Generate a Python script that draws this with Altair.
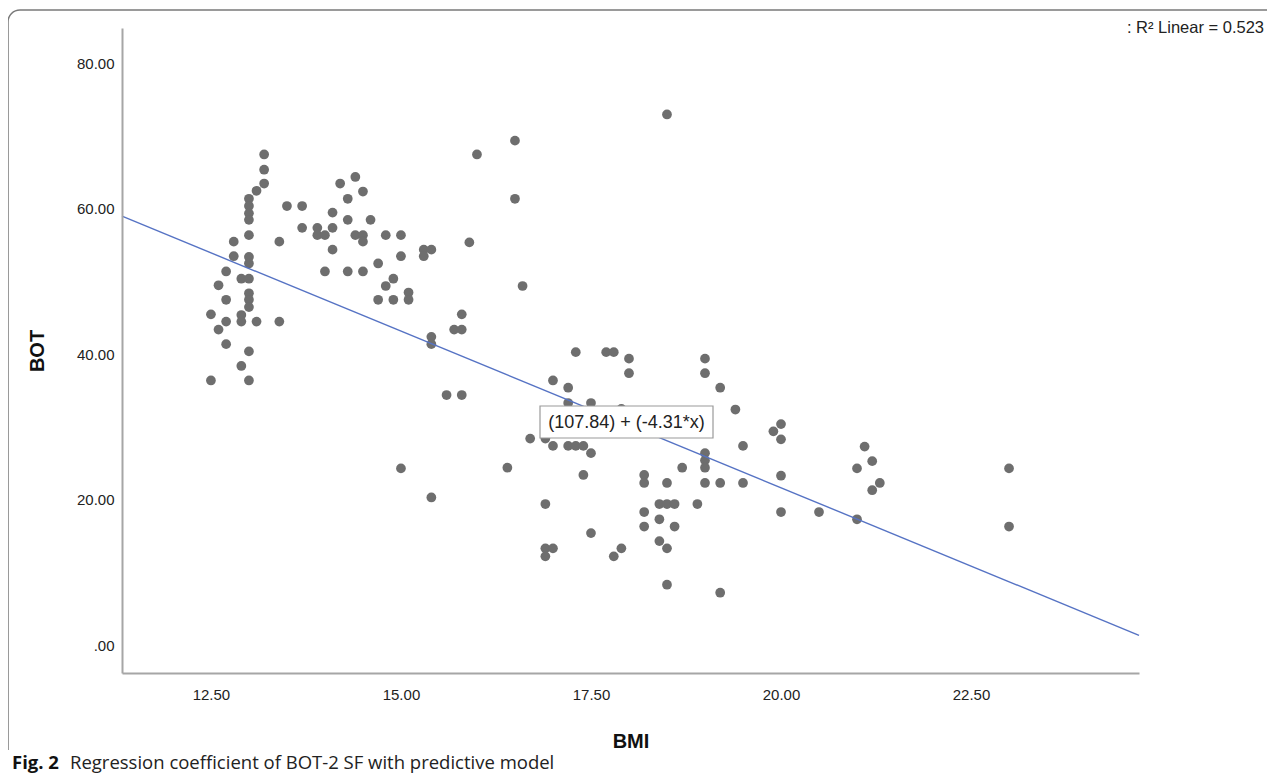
import altair as alt
import pandas as pd

# BMI (x) and BOT (y) values
bmi = [12.5, 12.5, 12.6, 12.6, 12.7, 12.7, 12.7, 12.7, 12.8, 12.8,
       12.9, 12.9, 12.9, 12.9,
       13.0, 13.0, 13.0, 13.0, 13.0, 13.0, 13.0, 13.0, 13.0, 13.0, 13.0, 13.0, 13.0,
       13.1, 13.1, 13.2, 13.2, 13.2, 13.4, 13.4, 13.5, 13.7, 13.7,
       13.9, 13.9, 14.0, 14.1, 14.1, 14.1, 14.0, 14.2, 14.3, 14.3, 14.3,
       14.4, 14.5, 14.6, 14.4, 14.5, 14.5, 14.5, 14.8, 15.0, 15.0,
       15.3, 15.4, 15.3, 14.7, 14.9, 14.8, 14.7, 14.9, 15.1, 15.1,
       15.0, 15.4, 15.4, 15.4, 15.9, 16.0, 16.5, 16.5, 16.6,
       15.8, 15.7, 15.8, 15.6, 15.8,
       17.3, 17.7, 17.8, 18.0, 18.0, 17.0, 17.2, 17.2, 17.5, 17.9,
       16.9, 16.7, 16.9, 17.0, 17.2, 17.3, 17.4, 17.5, 16.4, 17.4,
       16.9, 17.5, 16.9, 17.0, 16.9, 17.8, 17.9,
       18.5, 18.2, 18.2, 18.5, 18.7, 18.9, 18.4, 18.5, 18.6,
       18.2, 18.2, 18.4, 18.6, 18.4, 18.5, 18.5, 19.2,
       19.0, 19.0, 19.2, 19.4, 19.0, 19.0, 19.0, 19.0, 19.2, 19.5, 19.5,
       20.0, 19.9, 20.0, 20.0, 20.0, 20.5, 21.0,
       21.1, 21.2, 21.0, 21.3, 21.2, 23.0, 23.0]
bot = [45.5, 36.4, 49.5, 43.4, 51.4, 47.5, 44.5, 41.4, 55.5, 53.5,
       50.4, 45.4, 44.5, 38.4,
       61.4, 60.4, 59.4, 58.5, 56.4, 53.4, 52.5, 50.4, 48.4, 47.5, 46.5, 40.4, 36.4,
       62.5, 44.5, 67.5, 65.4, 63.5, 55.5, 44.5, 60.4, 60.4, 57.4,
       57.4, 56.4, 56.4, 57.4, 59.5, 54.4, 51.4, 63.5, 61.4, 58.5, 51.4,
       64.4, 62.4, 58.5, 56.4, 56.4, 55.5, 51.4, 56.4, 56.4, 53.5,
       54.4, 54.4, 53.5, 52.5, 50.4, 49.4, 47.5, 47.5, 48.5, 47.5,
       24.3, 20.3, 42.4, 41.4, 55.4, 67.5, 69.4, 61.4, 49.4,
       45.5, 43.4, 43.4, 34.4, 34.4,
       40.3, 40.3, 40.3, 39.4, 37.4, 36.4, 35.4, 33.3, 33.3, 32.5,
       31.3, 28.4, 28.4, 27.4, 27.4, 27.4, 27.4, 26.4, 24.4, 23.4,
       19.4, 15.4, 13.3, 13.3, 12.2, 12.2, 13.3,
       73.0, 23.4, 22.3, 22.3, 24.4, 19.4, 19.4, 19.4, 19.4,
       18.3, 16.3, 17.3, 16.3, 14.3, 13.3, 8.3, 7.2,
       39.4, 37.4, 35.4, 32.4, 26.4, 25.4, 24.4, 22.3, 22.3, 22.3, 27.4,
       30.4, 29.4, 28.3, 23.3, 18.3, 18.3, 17.3,
       27.3, 25.3, 24.3, 22.3, 21.3, 24.3, 16.3]

x_domain = [11.33, 24.71]
y_domain = [-3.85, 84.9]
x_ticks = [12.5, 15.0, 17.5, 20.0, 22.5]
y_ticks = [0, 20, 40, 60, 80]
intercept = 107.84
slope = -4.31

pts = pd.DataFrame({"BMI": bmi, "BOT": bot})
line_df = pd.DataFrame({"BMI": x_domain})

W, H = 1017, 645

xs = alt.Scale(domain=x_domain, nice=False, zero=False)
ys = alt.Scale(domain=y_domain, nice=False, zero=False)

fmt = "datum.value == 0 ? '.00' : format(datum.value, '.2f')"

xaxis = alt.Axis(values=x_ticks, labelExpr=fmt, grid=False, ticks=False,
                 domainColor="#a6a6a6", domainWidth=2, labelPadding=14,
                 labelFontSize=15, labelColor="#222222", labelFont="Liberation Sans",
                 title="BMI", titleFont="Liberation Sans", titleFontSize=20,
                 titleFontWeight="bold", titleColor="#111111", titleY=68,
                 titleBaseline="middle", zindex=1)
yaxis = alt.Axis(values=y_ticks, labelExpr=fmt, grid=False, ticks=False,
                 domainColor="#a6a6a6", domainWidth=2, labelPadding=8,
                 labelFontSize=15, labelColor="#222222", labelFont="Liberation Sans",
                 title="BOT", titleFont="Liberation Sans", titleFontSize=20,
                 titleFontWeight="bold", titleColor="#111111", titleX=-85,
                 titleY=H / 2, titleAngle=270, titleBaseline="middle",
                 titleAlign="center", zindex=1)

one = pd.DataFrame({"k": [0]})

frame = alt.Chart(one).mark_rect(
    fillOpacity=0, stroke="#7a7a7a", strokeWidth=1.5, cornerRadiusTopLeft=12
).encode(x=alt.value(-114), x2=alt.value(1250), y=alt.value(-18), y2=alt.value(760))

cover = alt.Chart(one).mark_rect(fill="white").encode(
    x=alt.value(-120), x2=alt.value(1250), y=alt.value(722), y2=alt.value(780))

points = alt.Chart(pts).mark_circle(size=95, color="#6e6e6e", opacity=1).encode(
    x=alt.X("BMI:Q", scale=xs, axis=xaxis),
    y=alt.Y("BOT:Q", scale=ys, axis=yaxis),
)

reg = alt.Chart(line_df).mark_line(color="#5673c4", strokeWidth=1.4).transform_calculate(
    BOT=f"{intercept} + ({slope}) * datum.BMI"
).encode(x=alt.X("BMI:Q", scale=xs), y=alt.Y("BOT:Q", scale=ys))

box = alt.Chart(one).mark_rect(
    fill="white", stroke="#9a9a9a", strokeWidth=1.2
).encode(x=alt.value(418), x2=alt.value(591), y=alt.value(378), y2=alt.value(410))

eq = alt.Chart(pd.DataFrame({"t": ["(107.84) + (-4.31*x)"]})).mark_text(
    font="Liberation Sans", fontSize=18, color="#222222", align="center", baseline="middle"
).encode(text="t:N", x=alt.value(504.5), y=alt.value(395))

r2 = alt.Chart(pd.DataFrame({"t": [": R² Linear = 0.523"]})).mark_text(
    font="Liberation Sans", fontSize=16.5, color="#222222", align="right", baseline="middle"
).encode(text="t:N", x=alt.value(1142), y=alt.value(0))

cap1 = alt.Chart(pd.DataFrame({"t": ["Fig. 2"]})).mark_text(
    font="Open Sans", fontSize=18.5, fontWeight="bold",
    color="#111111", align="left", baseline="middle"
).encode(text="t:N", x=alt.value(-110), y=alt.value(735))

cap2 = alt.Chart(pd.DataFrame({"t": ["Regression coefficient of BOT-2 SF with predictive model"]})).mark_text(
    font="Open Sans", fontSize=18.5, color="#222222",
    align="left", baseline="middle"
).encode(text="t:N", x=alt.value(-52), y=alt.value(735))

chart = alt.layer(frame, cover, points, reg, box, eq, r2, cap1, cap2).properties(
    width=W, height=H,
    padding={"left": 114, "top": 20, "right": 128, "bottom": 101},
    autosize=alt.AutoSizeParams(type="none"),
).configure(background="white").configure_view(stroke=None)

chart.save("out.html", embed_options={"renderer": "svg", "actions": False})
